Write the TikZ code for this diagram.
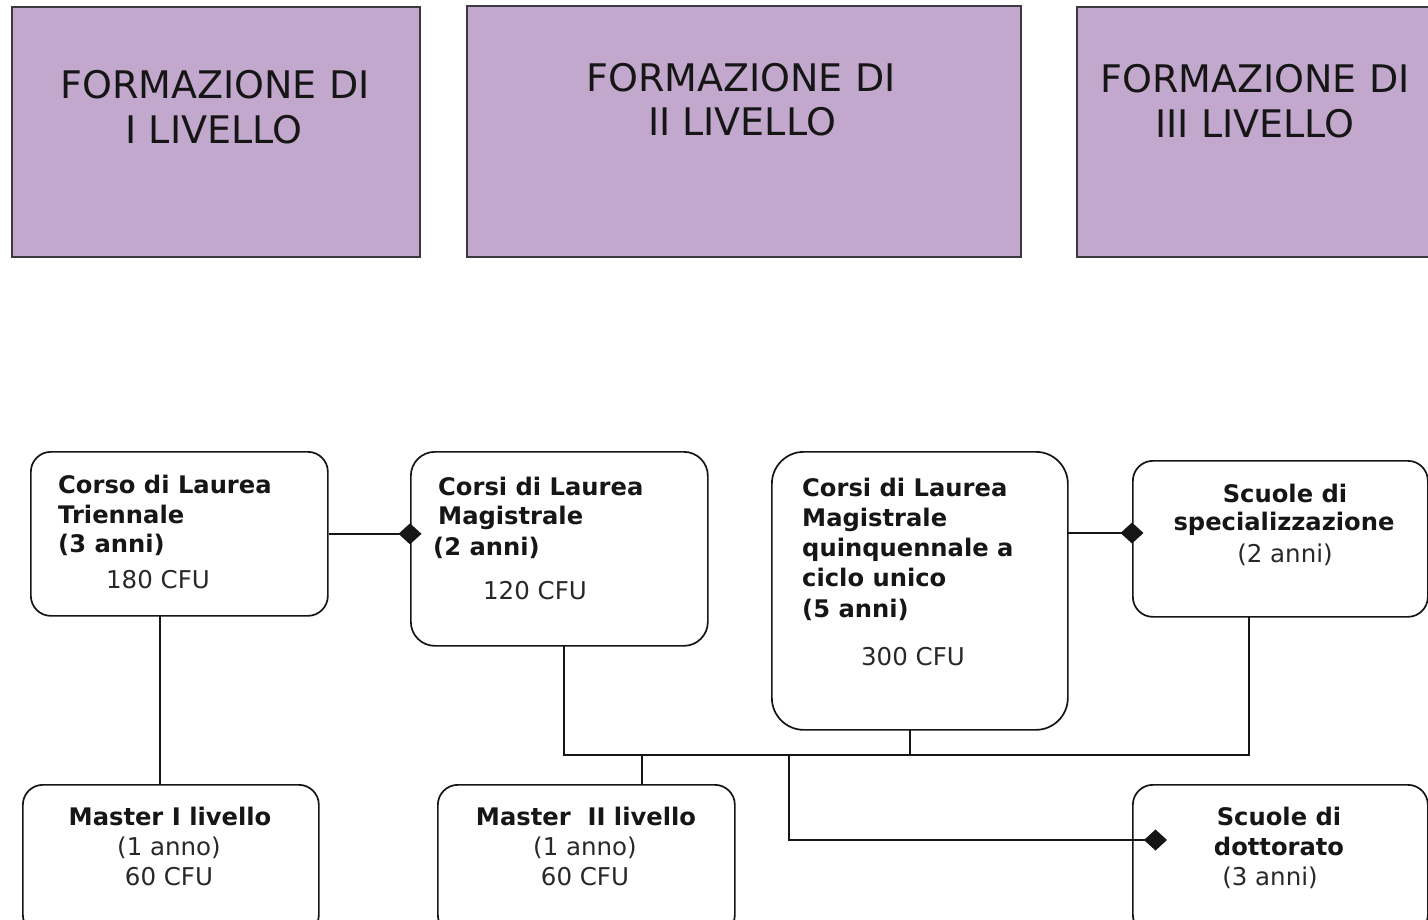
\documentclass[tikz,border=0pt]{standalone}
\usepackage{fontspec}
\setmainfont{DejaVu Sans}
\usetikzlibrary{arrows.meta}
\definecolor{hdrfill}{RGB}{195,168,205}
\definecolor{hdrline}{RGB}{62,56,64}
\definecolor{ink}{RGB}{22,22,22}
\definecolor{soft}{RGB}{40,40,40}
\begin{document}
\begin{tikzpicture}[x=1pt,y=-1pt,
  hdr/.style={draw=hdrline, fill=hdrfill, line width=1.8pt, inner sep=0pt, anchor=north west},
  hdrtxt/.style={inner sep=0pt, anchor=base, text=ink, font=\fontsize{38}{44}\selectfont},
  rbox/.style={draw=ink, fill=white, line width=1.7pt, inner sep=0pt, anchor=north west, rounded corners=#1},
  btl/.style={inner sep=0pt, anchor=base west, text=ink, font=\fontsize{24.2}{30}\selectfont\bfseries},
  btc/.style={inner sep=0pt, anchor=base, text=ink, font=\fontsize{24.2}{30}\selectfont\bfseries},
  rtc/.style={inner sep=0pt, anchor=base, text=soft, font=\fontsize{24.5}{30}\selectfont},
  conn/.style={draw=ink, line width=1.7pt},
  dia/.style={-{Diamond[length=23pt,width=21pt]}}
]
\useasboundingbox (0,0) rectangle (1428,919);
\clip (0,0) rectangle (1428,919);

% header boxes
\node[hdr, minimum width=408pt, minimum height=250pt] (h1) at (11,6) {};
\node[hdr, minimum width=554pt, minimum height=251pt] (h2) at (466,5) {};
\node[hdr, minimum width=400pt, minimum height=250pt] (h3) at (1076,6) {};
\node[hdrtxt] (h1a) at (215,98) {FORMAZIONE DI};
\node[hdrtxt] (h1b) at (214,143) {I LIVELLO};
\node[hdrtxt] (h2a) at (741,91) {FORMAZIONE DI};
\node[hdrtxt] (h2b) at (742,135) {II LIVELLO};
\node[hdrtxt] (h3a) at (1255,92) {FORMAZIONE DI};
\node[hdrtxt] (h3b) at (1255,137) {III LIVELLO};

% course boxes
\node[rbox=20pt, minimum width=297pt, minimum height=164pt] (A) at (30,451) {};
\node[rbox=24pt, minimum width=297pt, minimum height=194pt] (B) at (410,451) {};
\node[rbox=32pt, minimum width=296pt, minimum height=278pt] (C) at (771,451) {};
\node[rbox=20pt, minimum width=295pt, minimum height=156pt] (D) at (1132,460) {};
\node[rbox=20pt, minimum width=296pt, minimum height=150pt] (E) at (22,784) {};
\node[rbox=20pt, minimum width=297pt, minimum height=150pt] (F) at (437,784) {};
\node[rbox=20pt, minimum width=295pt, minimum height=150pt] (G) at (1132,784) {};

% texts
\node[btl] (a1) at (58,493) {Corso di Laurea};
\node[btl] (a2) at (58,523) {Triennale};
\node[btl] (a3) at (58,552) {(3 anni)};
\node[rtc] (a4) at (158,588) {180 CFU};

\node[btl] (b1) at (438,495) {Corsi di Laurea};
\node[btl] (b2) at (438,524) {Magistrale};
\node[btl] (b3) at (433,555) {(2 anni)};
\node[rtc] (b4) at (535,599) {120 CFU};

\node[btl] (c1) at (802,496) {Corsi di Laurea};
\node[btl] (c2) at (802,526) {Magistrale};
\node[btl] (c3) at (802,556) {quinquennale a};
\node[btl] (c4) at (802,586) {ciclo unico};
\node[btl] (c5) at (802,617) {(5 anni)};
\node[rtc] (c6) at (913,665) {300 CFU};

\node[btc] (d1) at (1285,502) {Scuole di};
\node[btc] (d2) at (1284,530) {specializzazione};
\node[rtc] (d3) at (1285,562) {(2 anni)};

\node[btc] (e1) at (170,825) {Master I livello};
\node[rtc] (e2) at (169,855) {(1 anno)};
\node[rtc] (e3) at (169,885) {60 CFU};

\node[btc] (f1) at (586,825) {Master\ \ II livello};
\node[rtc] (f2) at (585,855) {(1 anno)};
\node[rtc] (f3) at (585,885) {60 CFU};

\node[btc] (g1) at (1279,825) {Scuole di};
\node[btc] (g2) at (1279,855) {dottorato};
\node[rtc] (g3) at (1270,885) {(3 anni)};

% connector points
\coordinate (ab) at (A.east);
\coordinate (cd) at (1067,533);
\coordinate (ae) at (160,615);
\coordinate (bs) at (564,645);
\coordinate (cs) at (910,729);
\coordinate (ds) at (1249,616);
\coordinate (bus1) at (564,755);
\coordinate (bus2) at (1249,755);
\coordinate (busc) at (910,755);
\coordinate (busf) at (642,755);
\coordinate (busg) at (789,755);
\coordinate (gcorner) at (789,840);
\coordinate (gtip) at (1167,840);

% connectors
\draw[conn, dia, shorten >=-11.5pt] (ab) -- (ab -| B.west);
\draw[conn, dia, shorten >=-11.5pt] (cd) -- (cd -| D.west);
\draw[conn] (ae) -- (ae |- E.north);
\draw[conn] (bs) -- (bus1) -- (bus2) -- (ds);
\draw[conn] (cs) -- (busc);
\draw[conn] (busf) -- (busf |- F.north);
\draw[conn, dia] (busg) -- (gcorner) -- (gtip);
\end{tikzpicture}
\end{document}
